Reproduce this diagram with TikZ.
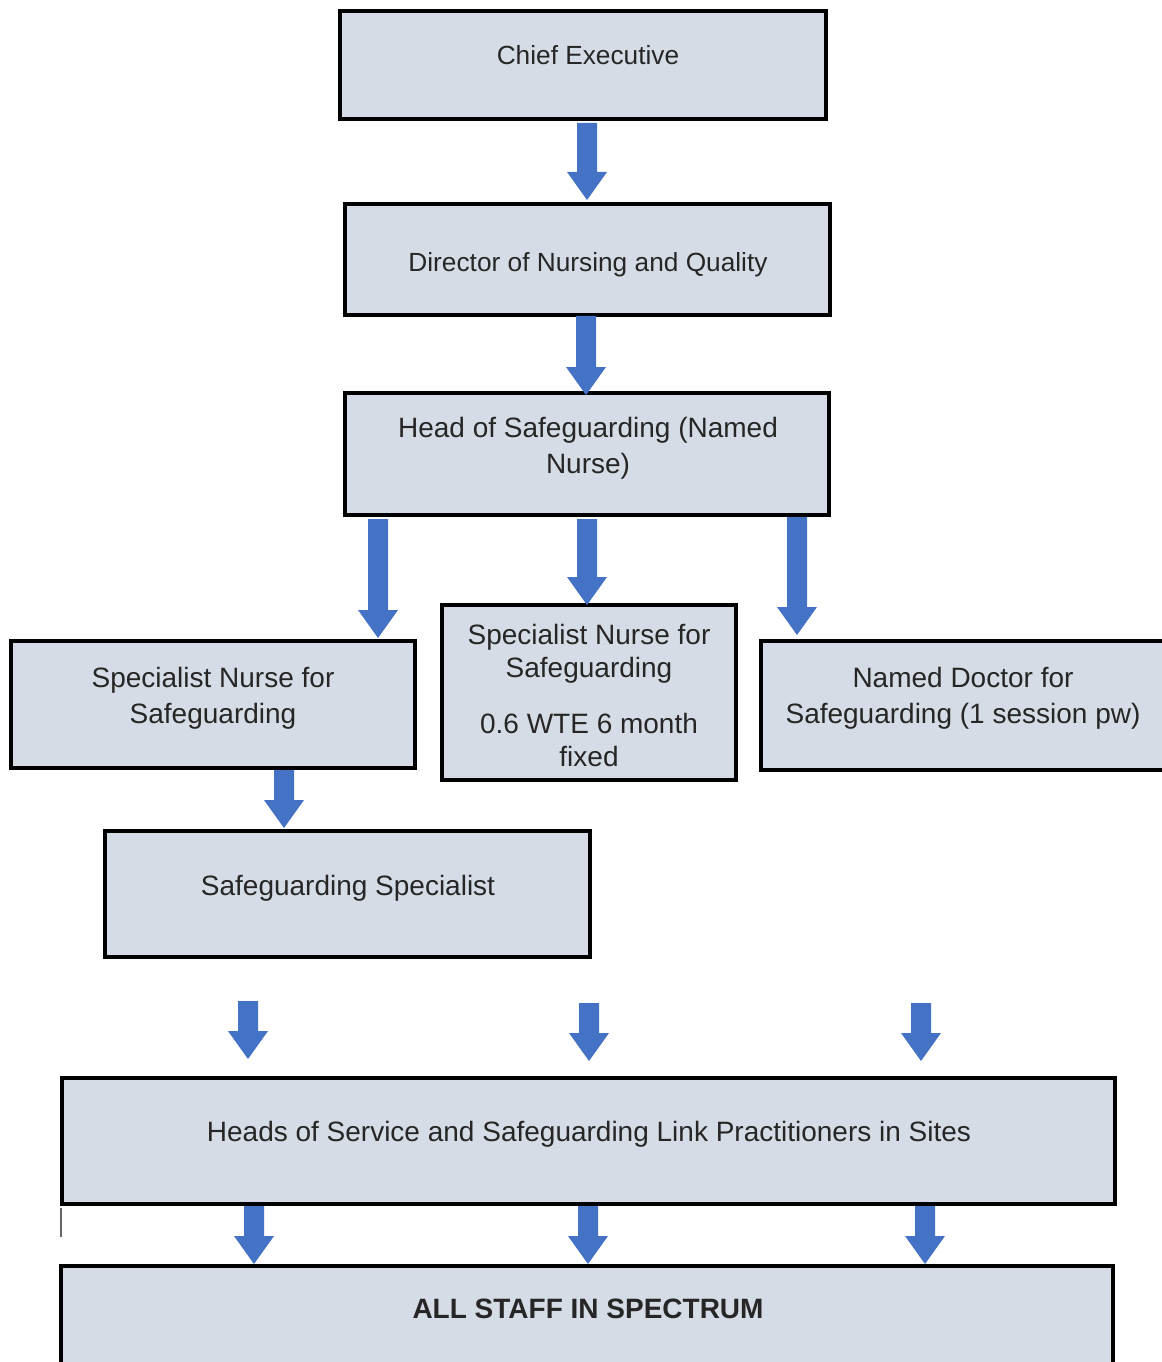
\documentclass[tikz,border=0pt]{standalone}
\usepackage{fontspec}
\setmainfont{Liberation Sans}
\definecolor{boxfill}{HTML}{D6DCE5}
\definecolor{arrowblue}{HTML}{4472C4}
\newcommand\barrow[3]{\fill[arrowblue] ({#1-10},#2) -- ({#1+10},#2) -- ({#1+10},{#3-28}) -- ({#1+20},{#3-28}) -- (#1,#3) -- ({#1-20},{#3-28}) -- ({#1-10},{#3-28}) -- cycle;}
\begin{document}
\begin{tikzpicture}[x=0.75pt,y=-0.75pt,
  orgbox/.style={draw=black, line width=3pt, fill=boxfill, inner sep=0pt},
  txt/.style={font=\fontsize{19.7}{27}\selectfont, align=center, text=black!85, inner sep=0pt},
  bigtxt/.style={txt, font=\fontsize{21}{27}\selectfont}]
\useasboundingbox (0,0) rectangle (1162,1362);
\clip (0,0) rectangle (1162,1362);
\fill[white] (0,0) rectangle (1162,1362);
% boxes
\node[orgbox, minimum width=486*0.75pt, minimum height=108*0.75pt] (ce) at (583,65) {};
\node[txt] (ceT) at (588,55) {Chief Executive};
\node[orgbox, minimum width=485*0.75pt, minimum height=111*0.75pt] (dn) at (587.5,259.5) {};
\node[txt] (dnT) at (588,265) {Director of Nursing and Quality};
\node[orgbox, minimum width=484*0.75pt, minimum height=122*0.75pt] (hs) at (587,454) {};
\node[bigtxt] (hsT) at (588,448) {Head of Safeguarding (Named\\Nurse)};
\node[orgbox, minimum width=404*0.75pt, minimum height=127*0.75pt] (snl) at (213,704.5) {};
\node[bigtxt] (snlT) at (213,698) {Specialist Nurse for\\Safeguarding};
\node[orgbox, minimum width=294*0.75pt, minimum height=175*0.75pt] (snm) at (589,692.5) {};
\node[bigtxt, font=\fontsize{21}{24.75}\selectfont] (snmT1) at (589,654) {Specialist Nurse for\\Safeguarding};
\node[bigtxt, font=\fontsize{21}{24.75}\selectfont] (snmT2) at (589,740) {0.6 WTE 6 month\\fixed};
\node[orgbox, minimum width=410*0.75pt, minimum height=129*0.75pt] (nd) at (966,705.5) {};
\node[bigtxt] (ndT) at (963,698) {Named Doctor for\\Safeguarding (1 session pw)};
\node[orgbox, minimum width=485*0.75pt, minimum height=126*0.75pt] (ss) at (347.5,894) {};
\node[bigtxt] (ssT) at (348,888) {Safeguarding Specialist};
\node[orgbox, minimum width=1053*0.75pt, minimum height=126*0.75pt] (hos) at (588.5,1141) {};
\node[bigtxt] (hosT) at (589,1134) {Heads of Service and Safeguarding Link Practitioners in Sites};
\node[orgbox, minimum width=1052*0.75pt, minimum height=140*0.75pt] (all) at (587,1336) {};
\node[bigtxt, font=\bfseries\fontsize{21}{27}\selectfont] (allT) at (588,1309) {ALL STAFF IN SPECTRUM};
% arrows
\barrow{587}{123}{200}
\barrow{586}{316}{395}
\barrow{378}{519}{638}
\barrow{587}{519}{605}
\barrow{797}{517}{635}
\barrow{284}{770}{828}
\barrow{248}{1001}{1059}
\barrow{589}{1003}{1061}
\barrow{921}{1003}{1061}
\barrow{254}{1206}{1264}
\barrow{588}{1206}{1264}
\barrow{925}{1206}{1264}
% stray mark
\draw[black!60, line width=1pt] (61,1208) -- (61,1237);
\end{tikzpicture}
\end{document}
